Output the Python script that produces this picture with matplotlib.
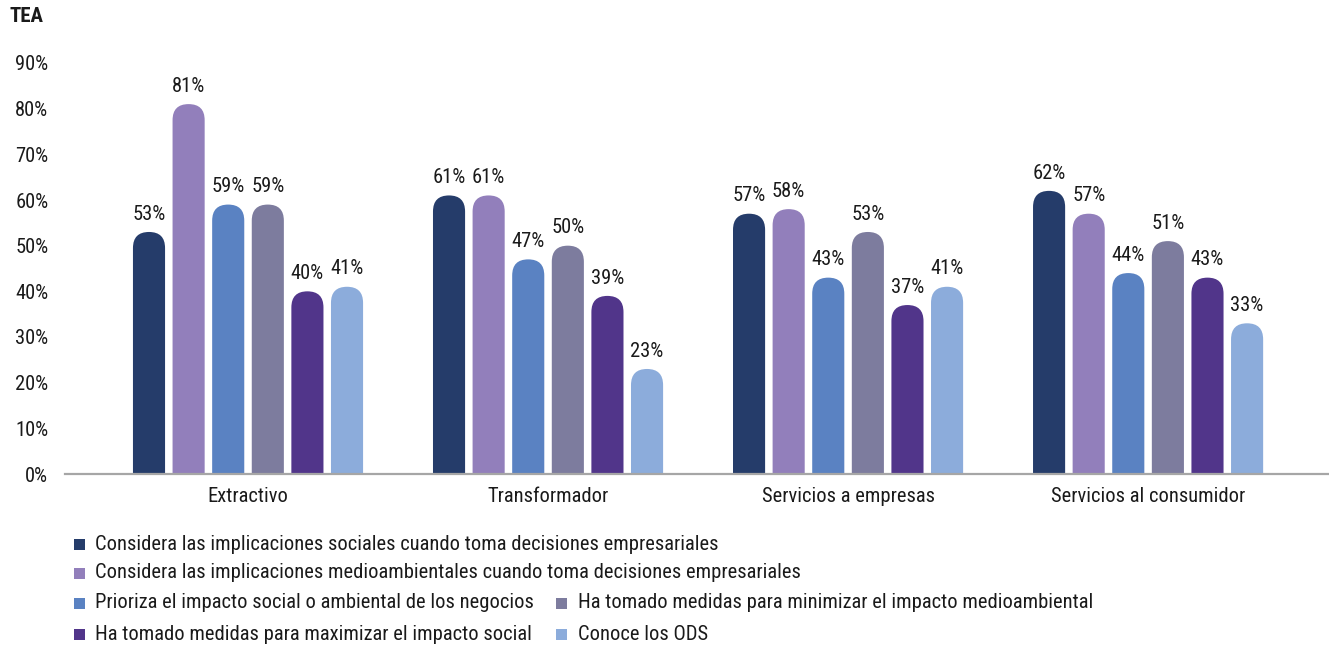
import matplotlib
matplotlib.use("Agg")
import matplotlib.pyplot as plt
from matplotlib.patches import FancyBboxPatch, Rectangle
from matplotlib import font_manager

# datos
categorias = ["Extractivo", "Transformador", "Servicios a empresas", "Servicios al consumidor"]
series = [
    "Considera las implicaciones sociales cuando toma decisiones empresariales",
    "Considera las implicaciones medioambientales cuando toma decisiones empresariales",
    "Prioriza el impacto social o ambiental de los negocios",
    "Ha tomado medidas para minimizar el impacto medioambiental",
    "Ha tomado medidas para maximizar el impacto social",
    "Conoce los ODS",
]
sociales = [53, 61, 57, 62]
medioambientales = [81, 61, 58, 57]
prioriza = [59, 47, 43, 44]
minimizar = [59, 50, 53, 51]
maximizar = [40, 39, 37, 43]
ods = [41, 23, 41, 33]
valores = [sociales, medioambientales, prioriza, minimizar, maximizar, ods]
y_ticks = [0, 10, 20, 30, 40, 50, 60, 70, 80, 90]

colores = ["#253c6a", "#927fbb", "#5a82c2", "#7d7c9e", "#51358a", "#8cacdb"]

instaladas = {f.name for f in font_manager.fontManager.ttflist}
fam = [f for f in ["Roboto Condensed", "Liberation Sans Narrow", "Roboto"] if f in instaladas]
plt.rcParams["font.family"] = fam + ["DejaVu Sans"]
plt.rcParams["font.size"] = 14.8
plt.rcParams["text.color"] = "#1a1a1a"

W, H = 13.29, 6.47
fig = plt.figure(figsize=(W, H), dpi=100)
ax_pos = [65 / 1329, 173 / 647, 1264 / 1329, 411 / 647]
ax = fig.add_axes(ax_pos)

xmin, xmax = -0.61, 3.603
ymin, ymax = 0, 90
ax.set_xlim(xmin, xmax)
ax.set_ylim(ymin, ymax)

# relacion de aspecto para redondear las barras
x_por_px = (xmax - xmin) / (ax_pos[2] * W * 100)
y_por_px = (ymax - ymin) / (ax_pos[3] * H * 100)
aspecto = y_por_px / x_por_px

paso = 0.132
ancho = 0.107
radio = 0.5 * ancho
for i, (vals, col) in enumerate(zip(valores, colores)):
    for j, v in enumerate(vals):
        x = j + (i - 2.5) * paso
        barra = FancyBboxPatch((x - ancho / 2, -8), ancho, v + 8,
                               boxstyle=f"round,pad=0,rounding_size={radio}",
                               mutation_aspect=aspecto, fc=col, ec="none", zorder=2)
        ax.add_patch(barra)
        ax.annotate(f"{v}%", (x, v), xytext=(0, 6), textcoords="offset points",
                    ha="center", va="bottom", fontsize=14.8)

ax.set_xticks(range(len(categorias)))
ax.set_xticklabels(categorias)
ax.set_yticks(y_ticks)
ax.set_yticklabels([f"{t}%" for t in y_ticks])
ax.tick_params(axis="both", length=0, labelsize=14.8, colors="#1a1a1a")
ax.tick_params(axis="x", pad=9)
ax.tick_params(axis="y", pad=12)
for s in ["top", "right", "left"]:
    ax.spines[s].set_visible(False)
ax.spines["bottom"].set_color("#a6a6a6")
ax.spines["bottom"].set_linewidth(1.6)
ax.spines["bottom"].set_zorder(3)

fig.text(10 / 1329, 1 - 17 / 647, "TEA", fontsize=15, fontweight="bold", va="center", ha="left")

# leyenda manual
pos_leyenda = [(74, 544), (74, 573), (74, 603), (556, 603), (74, 634), (556, 634)]
for (px, py), nombre, col in zip(pos_leyenda, series, colores):
    fig.patches.append(Rectangle((px / 1329, 1 - (py + 5.5) / 647), 11 / 1329, 11 / 647,
                                 transform=fig.transFigure, fc=col, ec="none"))
    gap = 21 if px < 100 else 22
    fig.text((px + gap) / 1329, 1 - py / 647, nombre, fontsize=14.8, va="center", ha="left")

fig.savefig("out.png", dpi=100)
